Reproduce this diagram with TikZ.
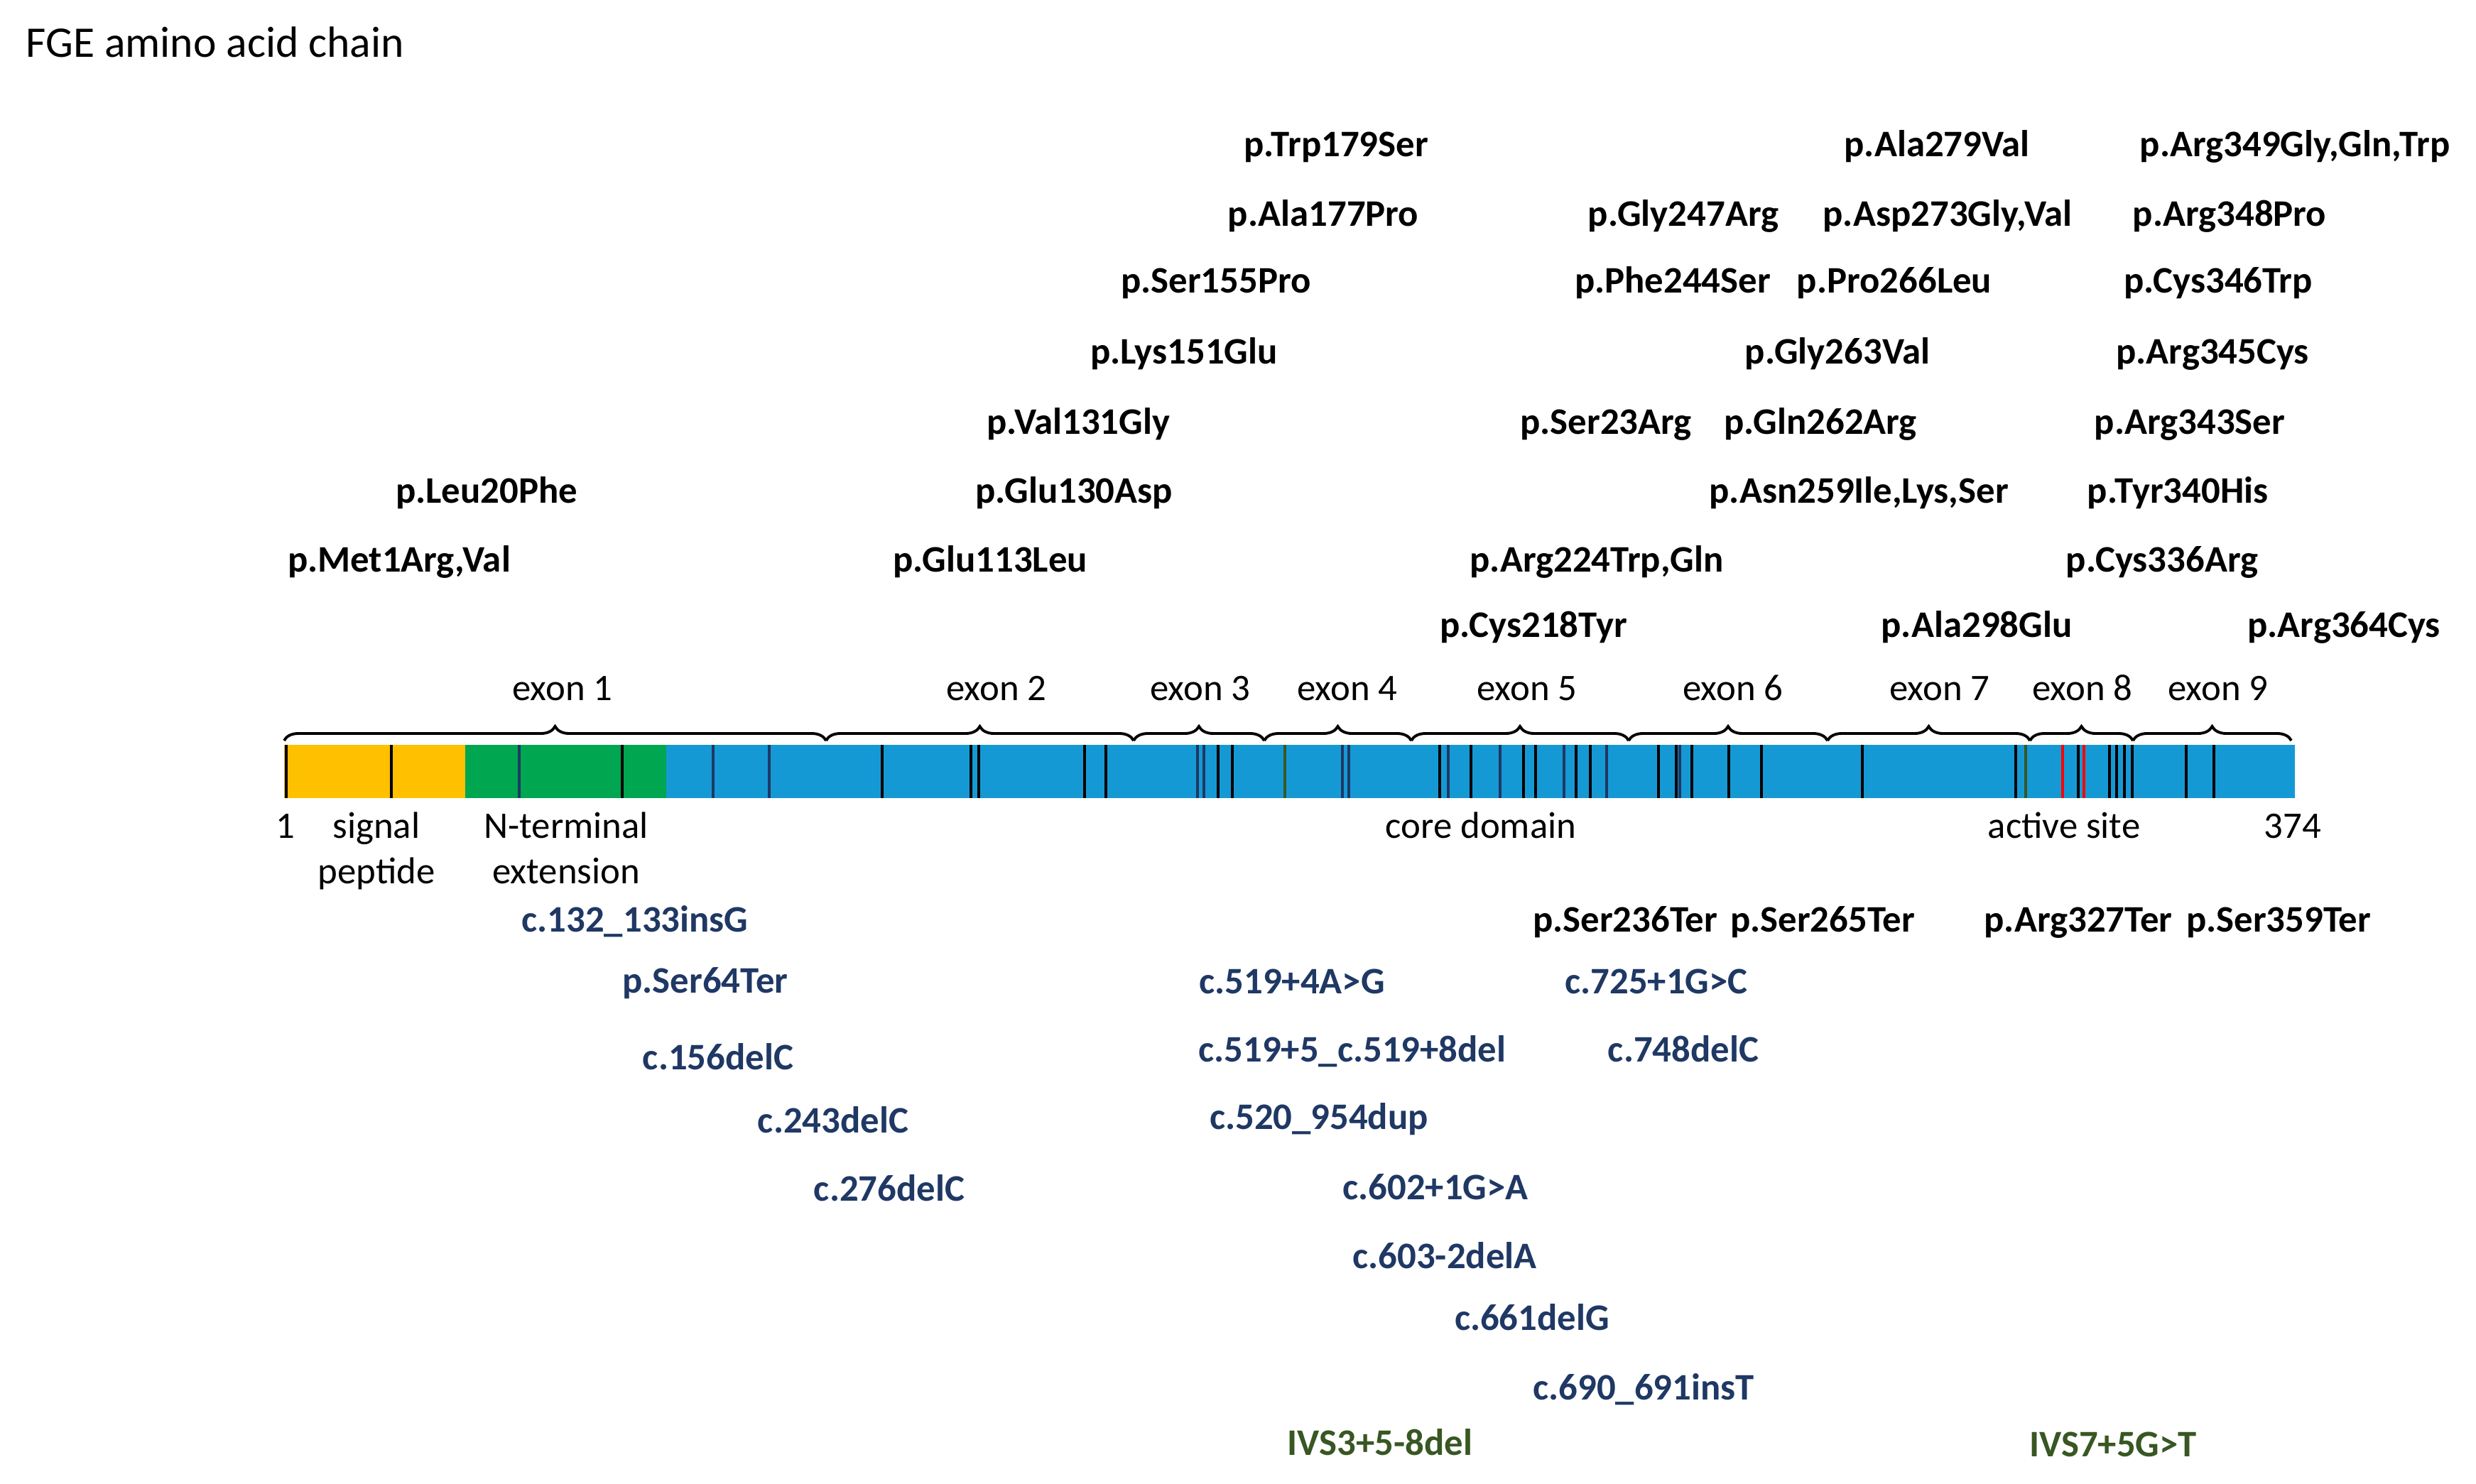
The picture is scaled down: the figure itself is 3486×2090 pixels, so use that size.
\documentclass[tikz,border=0pt]{standalone}
\usepackage{fontspec}
\setmainfont{Carlito}
\usetikzlibrary{decorations.pathreplacing}

\definecolor{sigpep}{HTML}{FFC000}
\definecolor{nterm}{HTML}{00A650}
\definecolor{coredom}{HTML}{1599D5}
\definecolor{truncblue}{HTML}{1F3864}
\definecolor{splicegreen}{HTML}{385723}
\definecolor{activered}{HTML}{FF0000}

\begin{document}
\begin{tikzpicture}[x=0.01cm, y=-0.01cm,
  lbl/.style={font=\fontsize{15}{17}\selectfont, anchor=base, inner sep=0},
  mis/.style={lbl, font=\fontsize{15}{17}\selectfont\bfseries},
  trunc/.style={mis, text=truncblue},
  spl/.style={mis, text=splicegreen},
  varbar/.style={line width=1.1pt},
  exonbrace/.style={decorate, decoration={brace, amplitude=0.2cm}, line width=1.1pt}]

\useasboundingbox (0,0) rectangle (3486,2090);

\node[lbl, anchor=base west, font=\fontsize{17.5}{20}\selectfont] (title) at (36,80) {FGE amino acid chain};

\fill[sigpep] (400,1049) rectangle (655,1124);
\fill[nterm] (655,1049) rectangle (938,1124);
\fill[coredom] (938,1049) rectangle (3231,1124);

\foreach \x in {403,551,876,1242,1367,1378,1527,1557,1715,1735,2027,2071,2145,2162,2219,2239,2335,2360,2382,2434,2480,2622,2838,2926,2970,2980,2991,3002,3078,3117}
  \draw[varbar] (\x,1049) -- (\x,1124);
\foreach \x in {731,1004,1083,1686,1695,1890,1899,2039,2112,2202,2262,2365}
  \draw[varbar, truncblue] (\x,1049) -- (\x,1124);
\foreach \x in {1809,2852}
  \draw[varbar, splicegreen] (\x,1049) -- (\x,1124);
\foreach \x in {2904,2934}
  \draw[varbar, activered] (\x,1049) -- (\x,1124);

\draw[exonbrace] (400,1043) -- (1163,1043);
\draw[exonbrace] (1163,1043) -- (1596,1043);
\draw[exonbrace] (1596,1043) -- (1780,1043);
\draw[exonbrace] (1780,1043) -- (1987,1043);
\draw[exonbrace] (1987,1043) -- (2293,1043);
\draw[exonbrace] (2293,1043) -- (2573,1043);
\draw[exonbrace] (2573,1043) -- (2858,1043);
\draw[exonbrace] (2858,1043) -- (3003,1043);
\draw[exonbrace] (3003,1043) -- (3226,1043);

\node[lbl] (ex1) at (792,986) {exon 1};
\node[lbl] (ex2) at (1403,986) {exon 2};
\node[lbl] (ex3) at (1690,986) {exon 3};
\node[lbl] (ex4) at (1897,986) {exon 4};
\node[lbl] (ex5) at (2150,986) {exon 5};
\node[lbl] (ex6) at (2440,986) {exon 6};
\node[lbl] (ex7) at (2731,986) {exon 7};
\node[lbl] (ex8) at (2932,986) {exon 8};
\node[lbl] (ex9) at (3123,986) {exon 9};

\node[lbl] (first) at (402,1180) {1};
\node[lbl] (sig) at (530,1180) {signal};
\node[lbl] (sig2) at (530,1244) {peptide};
\node[lbl] (nt) at (797,1180) {N-terminal};
\node[lbl] (nt2) at (797,1244) {extension};
\node[lbl] (core) at (2085,1180) {core domain};
\node[lbl] (act) at (2906,1180) {active site};
\node[lbl] (last) at (3228,1180) {374};

\node[mis] (trp179) at (1881,220) {p.Trp179Ser};
\node[mis] (ala177) at (1863,318) {p.Ala177Pro};
\node[mis] (ser155) at (1712,412) {p.Ser155Pro};
\node[mis] (lys151) at (1667,512) {p.Lys151Glu};
\node[mis] (val131) at (1518,611) {p.Val131Gly};
\node[mis] (glu130) at (1512,708) {p.Glu130Asp};
\node[mis] (glu113) at (1394,805) {p.Glu113Leu};
\node[mis] (leu20) at (685,708) {p.Leu20Phe};
\node[mis] (met1) at (562,805) {p.Met1Arg,Val};

\node[mis] (gly247) at (2370,318) {p.Gly247Arg};
\node[mis] (phe244) at (2355,412) {p.Phe244Ser};
\node[mis] (ser23) at (2261,611) {p.Ser23Arg};
\node[mis] (arg224) at (2248,805) {p.Arg224Trp,Gln};
\node[mis] (cys218) at (2159,897) {p.Cys218Tyr};

\node[mis] (ala279) at (2727,220) {p.Ala279Val};
\node[mis] (asp273) at (2742,318) {p.Asp273Gly,Val};
\node[mis] (pro266) at (2667,412) {p.Pro266Leu};
\node[mis] (gly263) at (2587,512) {p.Gly263Val};
\node[mis] (gln262) at (2563,611) {p.Gln262Arg};
\node[mis] (asn259) at (2617,708) {p.Asn259Ile,Lys,Ser};
\node[mis] (ala298) at (2783,897) {p.Ala298Glu};

\node[mis] (arg349) at (3231,220) {p.Arg349Gly,Gln,Trp};
\node[mis] (arg348) at (3139,318) {p.Arg348Pro};
\node[mis] (cys346) at (3123,412) {p.Cys346Trp};
\node[mis] (arg345) at (3115,512) {p.Arg345Cys};
\node[mis] (arg343) at (3083,611) {p.Arg343Ser};
\node[mis] (tyr340) at (3066,708) {p.Tyr340His};
\node[mis] (cys336) at (3044,805) {p.Cys336Arg};
\node[mis] (arg364) at (3300,897) {p.Arg364Cys};

\node[trunc] (ins132) at (894,1312) {c.132\_133insG};
\node[trunc] (ser64) at (993,1398) {p.Ser64Ter};
\node[trunc] (del156) at (1011,1506) {c.156delC};
\node[trunc] (del243) at (1173,1595) {c.243delC};
\node[trunc] (del276) at (1252,1691) {c.276delC};

\node[trunc] (sp519a) at (1819,1399) {c.519+4A>G};
\node[trunc] (sp519b) at (1904,1495) {c.519+5\_c.519+8del};
\node[trunc] (dup520) at (1857,1590) {c.520\_954dup};
\node[trunc] (sp602) at (2021,1689) {c.602+1G>A};
\node[trunc] (sp603) at (2034,1786) {c.603-2delA};
\node[trunc] (del661) at (2157,1873) {c.661delG};
\node[trunc] (ins690) at (2314,1971) {c.690\_691insT};
\node[trunc] (sp725) at (2332,1399) {c.725+1G>C};
\node[trunc] (del748) at (2370,1495) {c.748delC};

\node[mis] (ser236) at (2288,1312) {p.Ser236Ter};
\node[mis] (ser265) at (2566,1312) {p.Ser265Ter};
\node[mis] (arg327) at (2926,1312) {p.Arg327Ter};
\node[mis] (ser359) at (3208,1312) {p.Ser359Ter};

\node[spl] (ivs3) at (1943,2049) {IVS3+5-8del};
\node[spl] (ivs7) at (2975,2051) {IVS7+5G>T};

\end{tikzpicture}
\end{document}
